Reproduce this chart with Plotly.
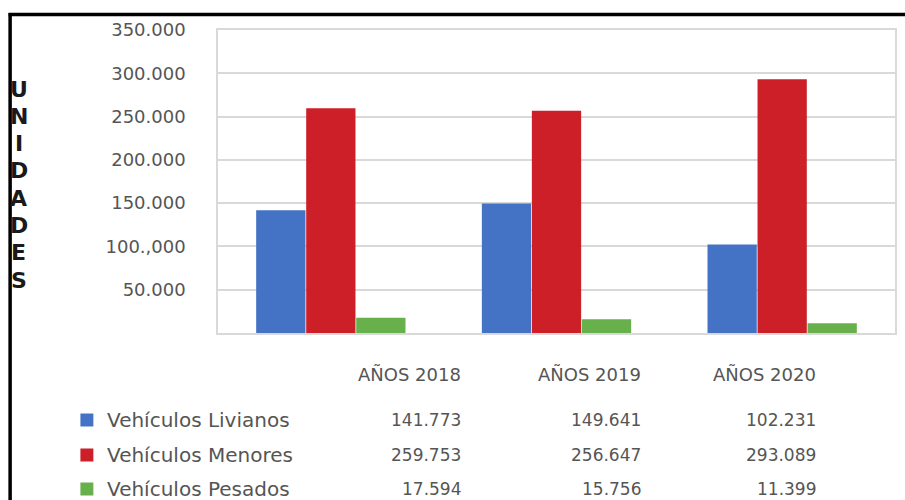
import plotly.graph_objects as go

# Vehicle units by year
years = ["AÑOS 2018", "AÑOS 2019", "AÑOS 2020"]
series_names = ["Vehículos Livianos", "Vehículos Menores", "Vehículos Pesados"]
livianos = [141773, 149641, 102231]
menores = [259753, 256647, 293089]
pesados = [17594, 15756, 11399]
series_values = [livianos, menores, pesados]
series_colors = ["#4472C4", "#CC1F27", "#67B04B"]

tick_vals = [50000, 100000, 150000, 200000, 250000, 300000, 350000]
tick_text = ["50.000", "100.,000", "150.000", "200.000", "250.000", "300.000", "350.000"]
axis_title = "UNIDADES"

W, H = 905, 500
L, R, T, B = 218, 8, 30, 167
PW, PH = W - L - R, H - T - B

def px(x):
    return (x - L) / PW

def py(y):
    return (H - B - y) / PH

FONT = "DejaVu Sans"
GREY = "#555555"

fig = go.Figure()
for name, vals, col in zip(series_names, series_values, series_colors):
    fig.add_trace(go.Bar(x=years, y=vals, name=name, marker_color=col,
                         marker_line_width=0, showlegend=False))

annotations = []
shapes = []

# vertical axis title, one letter per line
letters = list(axis_title)
for i, ch in enumerate(letters):
    annotations.append(dict(text=f"<b>{ch}</b>", x=px(18), y=py(89 + i * 27.3),
                            xref="paper", yref="paper", showarrow=False,
                            xanchor="center", yanchor="middle",
                            font=dict(family="DejaVu Sans", size=22, color="#1a1a1a")))

# data table under the chart
col_right = [464, 644, 820]
row_y = [420, 455, 489]
for yr, cx in zip(years, col_right):
    annotations.append(dict(text=yr, x=px(cx), y=py(374), xref="paper", yref="paper",
                            showarrow=False, xanchor="right", yanchor="middle",
                            font=dict(family=FONT, size=18, color=GREY)))
for name, vals, col, ry in zip(series_names, series_values, series_colors, row_y):
    shapes.append(dict(type="rect", xref="paper", yref="paper",
                       x0=px(80), x1=px(93), y0=py(ry - 6.5), y1=py(ry + 6.5),
                       fillcolor=col, line=dict(width=0)))
    annotations.append(dict(text=name, x=px(105), y=py(ry), xref="paper", yref="paper",
                            showarrow=False, xanchor="left", yanchor="middle",
                            font=dict(family=FONT, size=20, color=GREY)))
    for v, cx in zip(vals, col_right):
        annotations.append(dict(text=f"{v:,}".replace(",", "."), x=px(cx), y=py(ry),
                                xref="paper", yref="paper", showarrow=False,
                                xanchor="right", yanchor="middle",
                                font=dict(family=FONT, size=17, color=GREY)))

# black frame on the top and left edges
shapes.append(dict(type="line", xref="paper", yref="paper",
                   x0=px(8), x1=px(W + 10), y0=py(14.5), y1=py(14.5),
                   line=dict(color="black", width=3.5)))
shapes.append(dict(type="line", xref="paper", yref="paper",
                   x0=px(9.5), x1=px(9.5), y0=py(13), y1=py(H + 10),
                   line=dict(color="black", width=3.5)))

fig.update_layout(
    width=W, height=H,
    margin=dict(l=L, r=R, t=T, b=B),
    paper_bgcolor="white", plot_bgcolor="white",
    barmode="group", bargap=0.335, bargroupgap=0.015,
    annotations=annotations, shapes=shapes,
    showlegend=False,
)
fig.update_xaxes(showticklabels=False, showgrid=False, showline=True, mirror=True,
                 linecolor="#d9d9d9", linewidth=1.5)
fig.update_yaxes(range=[0, 350000], tickvals=tick_vals, ticktext=tick_text,
                 showgrid=True, gridcolor="#d9d9d9", gridwidth=1.5,
                 showline=True, mirror=True, linecolor="#d9d9d9", linewidth=1.5,
                 zeroline=False, ticks="", ticklabelstandoff=27,
                 tickfont=dict(family=FONT, size=18, color=GREY))

fig.write_html("out.html")
